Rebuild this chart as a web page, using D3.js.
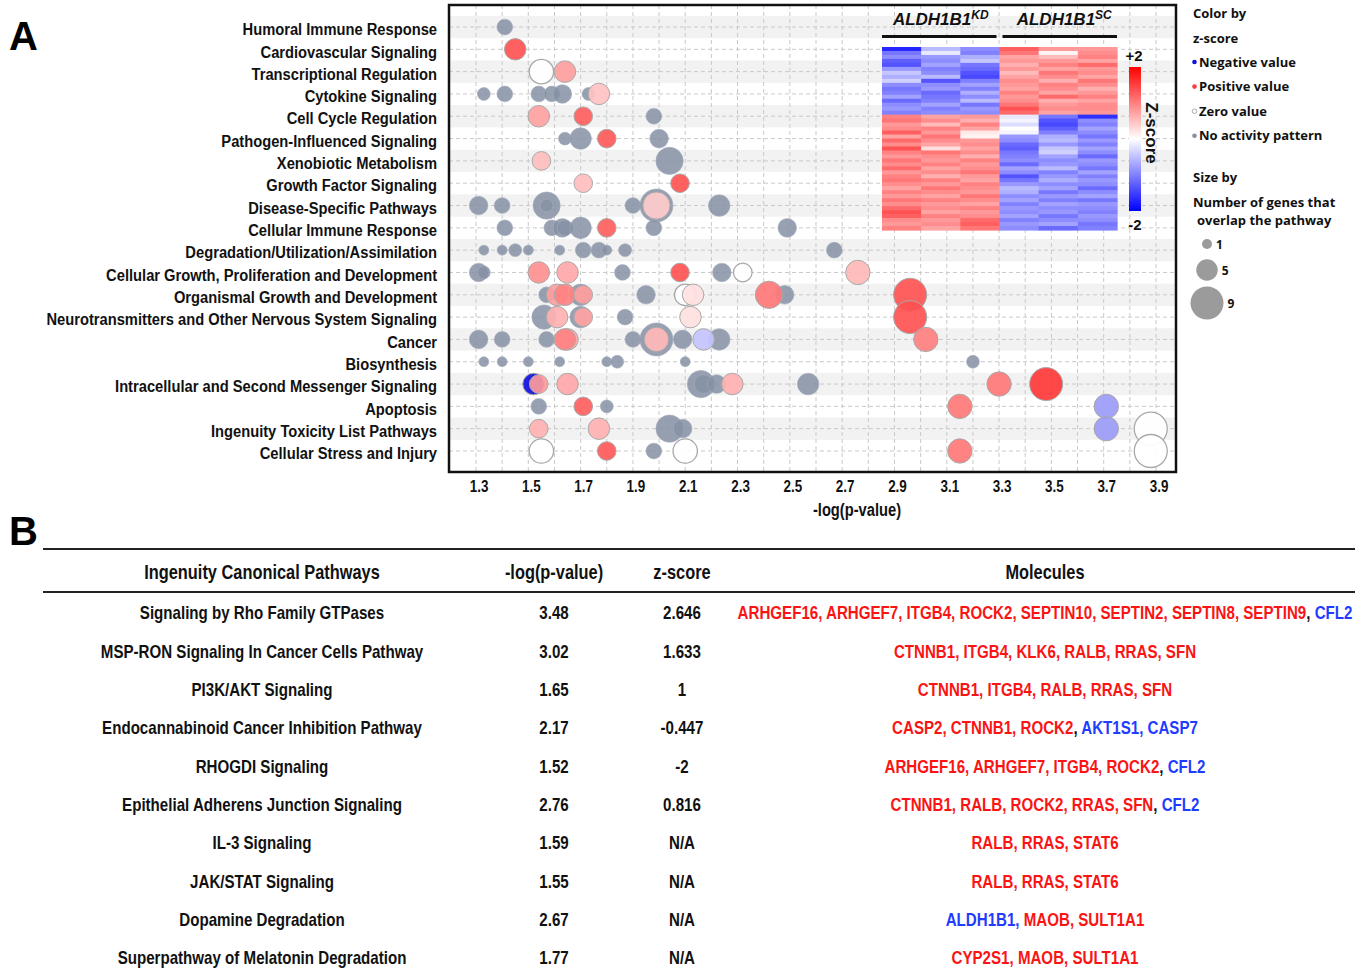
<!DOCTYPE html>
<html><head><meta charset="utf-8">
<script src="https://cdn.jsdelivr.net/npm/d3@7"></script>
<style>
body{margin:0;background:#fff;}
svg{display:block;}
</style></head><body>
<svg id="c" width="1363" height="973"></svg>
<script>
// ---------------- DATA ----------------
const categories = ["Humoral Immune Response","Cardiovascular Signaling","Transcriptional Regulation","Cytokine Signaling","Cell Cycle Regulation","Pathogen-Influenced Signaling","Xenobiotic Metabolism","Growth Factor Signaling","Disease-Specific Pathways","Cellular Immune Response","Degradation/Utilization/Assimilation","Cellular Growth, Proliferation and Development","Organismal Growth and Development","Neurotransmitters and Other Nervous System Signaling","Cancer","Biosynthesis","Intracellular and Second Messenger Signaling","Apoptosis","Ingenuity Toxicity List Pathways","Cellular Stress and Injury"];

const xTicks = [1.3,1.5,1.7,1.9,2.1,2.3,2.5,2.7,2.9,3.1,3.3,3.5,3.7,3.9];

// [category index, -log(p-value), number of overlapping genes, z-score (null = no activity pattern)]
const bubbles = [
 [0,1.41,3,null],
 [1,1.45,5,2.3],
 [2,1.55,6,0],[2,1.64,5,1.15],
 [3,1.33,2,null],[3,1.41,3,null],[3,1.54,3,null],[3,1.59,3,null],[3,1.63,4,null],[3,1.73,2,null],[3,1.77,5,0.7],
 [4,1.54,5,1.1],[4,1.71,4,2.1],[4,1.98,3,null],
 [5,1.64,2,null],[5,1.70,5,null],[5,1.80,4,2.2],[5,2.00,4,null],
 [6,1.55,4,0.75],[6,2.04,7,null],
 [7,1.71,4,0.75],[7,2.08,4,2.3],
 [8,1.31,4,null],[8,1.40,3,null],[8,1.57,7,null],[8,1.57,2,null],[8,1.90,3,null],[8,1.99,9,null],[8,1.99,7,0.6],[8,2.23,5,null],
 [9,1.41,3,null],[9,1.59,3,null],[9,1.63,4,null],[9,1.64,3,null],[9,1.70,5,null],[9,1.80,4,2.1],[9,1.98,3,null],[9,2.49,4,null],
 [10,1.33,1,null],[10,1.40,1,null],[10,1.45,2,null],[10,1.50,1,null],[10,1.62,1,null],[10,1.71,3,null],[10,1.77,3,null],[10,1.80,1,null],[10,1.87,2,null],[10,2.67,3,null],
 [11,1.31,4,null],[11,1.33,2,null],[11,1.54,5,1.4],[11,1.65,5,1.0],[11,1.86,3,null],[11,2.08,4,2.3],[11,2.24,4,null],[11,2.32,4,0],[11,2.76,6,0.816],
 [12,1.57,3,null],[12,1.70,5,null],[12,1.61,5,1.15],[12,1.64,5,1.6],[12,1.71,4,1.15],[12,1.95,4,null],[12,2.10,5,0],[12,2.13,5,0.35],[12,2.48,4,null],[12,2.42,7,1.75],[12,2.96,9,2.3],
 [13,1.56,6,null],[13,1.70,5,null],[13,1.61,5,0.9],[13,1.71,4,1.1],[13,1.87,3,null],[13,2.12,5,0.35],[13,2.96,9,2.3],
 [14,1.31,4,null],[14,1.40,3,null],[14,1.57,3,null],[14,1.65,5,1.0],[14,1.64,5,1.6],[14,1.90,3,null],[14,1.99,9,null],[14,1.99,6,0.8],[14,2.09,4,null],[14,2.23,5,null],[14,2.17,5,-0.447],[14,3.02,6,1.633],
 [15,1.33,1,null],[15,1.40,1,null],[15,1.50,1,null],[15,1.62,1,null],[15,1.80,1,null],[15,1.84,2,null],[15,2.10,1,null],[15,3.20,2,null],
 [16,1.52,5,-2],[16,1.54,4,1.2],[16,1.65,5,1.0],[16,2.16,7,null],[16,2.17,4,null],[16,2.22,4,null],[16,2.28,5,0.9],[16,2.57,5,null],[16,3.30,6,1.75],[16,3.48,9,2.646],
 [17,1.54,3,null],[17,1.71,4,2.1],[17,1.80,2,null],[17,3.15,6,1.75],[17,3.71,6,-0.8],
 [18,1.54,4,0.9],[18,1.77,5,0.9],[18,2.04,7,null],[18,2.09,4,null],[18,3.71,6,-0.8],[18,3.88,9,0],
 [19,1.55,6,0],[19,1.80,4,2.2],[19,1.98,3,null],[19,2.10,6,0],[19,3.15,6,1.75],[19,3.88,9,0]
];

const sizeLegend = [1,5,9];
const colorLegend = ["Negative value","Positive value","Zero value","No activity pattern"];

// heatmap inset: columns = 3 ALDH1B1 KD replicates, 3 ALDH1B1 SC replicates
const heatmapGroups = ["KD","SC"];
const heatmapValues = [
 [-1.9,-0.6,-1.0,1.4,0.9,0.9],
 [-1.2,-0.2,-1.1,1.2,0.1,1.0],
 [-1.0,-0.9,-0.7,0.8,0.6,1.1],
 [-1.4,-1.0,-0.5,0.9,0.9,0.8],
 [-1.5,-0.8,-1.2,0.7,1.1,1.3],
 [-0.9,-1.1,-1.3,0.9,0.8,0.9],
 [-0.5,-1.0,-1.5,0.6,1.2,1.0],
 [-0.7,-0.6,-1.6,0.8,1.0,0.8],
 [-0.4,-1.5,-1.1,1.0,0.7,1.2],
 [-1.0,-1.0,-0.8,0.9,1.1,1.0],
 [-1.2,-0.9,-1.1,0.8,1.0,0.7],
 [-1.1,-1.3,-0.7,1.1,0.8,0.9],
 [-0.8,-1.2,-1.0,0.9,1.3,1.1],
 [-1.3,-1.1,-0.6,1.0,0.7,0.8],
 [-1.0,-0.8,-1.2,1.2,0.9,1.0],
 [-0.9,-1.1,-0.9,1.5,1.0,1.0],
 [-1.1,-1.0,-1.0,1.3,0.8,0.9],
 [1.1,0.8,0.9,-0.2,-1.2,-1.8],
 [1.2,1.0,0.7,-0.1,-1.5,-1.0],
 [0.9,0.6,1.1,-0.3,-1.6,-1.1],
 [1.0,1.1,0.8,0.0,-1.4,-0.8],
 [1.4,0.9,0.2,-0.1,-1.1,-1.0],
 [0.8,1.2,0.1,-0.9,-0.7,-1.2],
 [1.3,1.0,0.9,-1.0,-0.6,-0.9],
 [1.0,0.8,1.0,-1.3,-0.9,-1.1],
 [1.5,0.3,0.8,-1.4,-0.5,-0.8],
 [1.1,1.2,1.0,-1.2,-0.4,-1.0],
 [0.9,1.0,0.7,-1.1,-0.8,-1.3],
 [1.2,0.9,1.1,-1.0,-1.0,-0.9],
 [1.0,1.1,0.9,-1.3,-0.9,-1.0],
 [1.3,0.8,1.0,-0.8,-0.6,-1.2],
 [0.9,1.0,1.2,-1.0,-1.1,-0.8],
 [1.1,0.7,0.9,-1.5,-0.9,-1.1],
 [1.2,1.1,0.8,-1.2,-0.7,-0.9],
 [1.0,0.9,1.1,-0.9,-1.0,-1.0],
 [0.8,1.2,1.0,-0.6,-0.8,-1.3],
 [1.1,1.0,0.9,-0.7,-1.2,-1.0],
 [0.9,0.8,1.2,-1.0,-0.9,-0.8],
 [1.2,1.1,1.0,-0.8,-1.1,-1.2],
 [1.0,0.9,0.8,-1.1,-0.8,-0.9],
 [1.3,1.0,1.1,-0.9,-1.0,-1.0],
 [1.5,0.8,0.9,-1.0,-0.9,-1.1],
 [1.4,1.1,1.0,-0.8,-1.2,-0.9],
 [1.0,0.9,1.3,-1.1,-1.0,-1.0],
 [0.9,1.0,1.4,-0.9,-0.8,-1.2],
 [1.1,0.8,1.2,-1.0,-1.3,-1.1]
];

// table B
const tableHeaders = ["Ingenuity Canonical Pathways","-log(p-value)","z-score","Molecules"];
const tablePathways = ["Signaling by Rho Family GTPases","MSP-RON Signaling In Cancer Cells Pathway","PI3K/AKT Signaling","Endocannabinoid Cancer Inhibition Pathway","RHOGDI Signaling","Epithelial Adherens Junction Signaling","IL-3 Signaling","JAK/STAT Signaling","Dopamine Degradation","Superpathway of Melatonin Degradation"];
const tableLogP = ["3.48","3.02","1.65","2.17","1.52","2.76","1.59","1.55","2.67","1.77"];
const tableZ = ["2.646","1.633","1","-0.447","-2","0.816","N/A","N/A","N/A","N/A"];
// segments: [text, "up" | "down" | "sep"]
const tableMolecules = [
 [["ARHGEF16, ARHGEF7, ITGB4, ROCK2, SEPTIN10, SEPTIN2, SEPTIN8, SEPTIN9","up"],[",","sep"],[" CFL2","down"]],
 [["CTNNB1, ITGB4, KLK6, RALB, RRAS, SFN","up"]],
 [["CTNNB1, ITGB4, RALB, RRAS, SFN","up"]],
 [["CASP2, CTNNB1, ROCK2","up"],[",","sep"],[" AKT1S1, CASP7","down"]],
 [["ARHGEF16, ARHGEF7, ITGB4, ROCK2","up"],[",","sep"],[" CFL2","down"]],
 [["CTNNB1, RALB, ROCK2, RRAS, SFN","up"],[",","sep"],[" CFL2","down"]],
 [["RALB, RRAS, STAT6","up"]],
 [["RALB, RRAS, STAT6","up"]],
 [["ALDH1B1,","down"],[" MAOB, SULT1A1","up"]],
 [["CYP2S1, MAOB, SULT1A1","up"]]
];

// ---------------- DRAWING ----------------
const svg = d3.select("#c");
const ARIAL = "'Liberation Sans', Arial, Helvetica, sans-serif";
const LEG = "'Open Sans', 'Noto Sans', sans-serif";
const plot = {left:449, right:1176, top:5, bottom:472};

const x = d3.scaleLinear().domain([1.3,3.9]).range([476,1156]);
const y = d3.scalePoint().domain(categories).range([27,451]);
const rowH = y.step();
const r = d3.scaleLinear().domain([1,9]).range([5,16.5]);
const zColor = d3.scaleLinear()
  .domain([-2,-0.45,0,1,1.63,2.65])
  .range(["#1010dc","#c4c4ff","#ffffff","#ffa8a8","#ff8080","#ff3a3a"]).clamp(true);
const GRAY = "#8690a4";

function ntext(parent, tx, ty, sx, size, anchor, str){
  return parent.append("text")
    .attr("transform", `translate(${tx},${ty}) scale(${sx},1)`)
    .attr("text-anchor", anchor)
    .attr("font-family", ARIAL).attr("font-weight","bold")
    .attr("font-size", size).attr("fill","#111")
    .text(str);
}

// panel letters
svg.append("text").attr("x",9).attr("y",50).attr("font-family",ARIAL).attr("font-weight","bold").attr("font-size",40).text("A");
svg.append("text").attr("x",9).attr("y",545).attr("font-family",ARIAL).attr("font-weight","bold").attr("font-size",40).text("B");

// background bands
const gBg = svg.append("g");
gBg.selectAll("rect.band").data(categories.filter((d,i)=>i%2===0)).join("rect")
  .attr("x",plot.left).attr("width",plot.right-plot.left)
  .attr("y",d=>y(d)-rowH/2).attr("height",rowH).attr("fill","#f2f2f2");

// grid lines
const gridX = d3.range(13,40).map(d=>d/10);
gBg.selectAll("line.vx").data(gridX).join("line")
  .attr("x1",d=>x(d)).attr("x2",d=>x(d)).attr("y1",plot.top).attr("y2",plot.bottom)
  .attr("stroke","#c9c9c9").attr("stroke-width",1).attr("stroke-dasharray","4,3");
gBg.selectAll("line.hy").data(categories).join("line")
  .attr("x1",plot.left).attr("x2",plot.right).attr("y1",d=>y(d)).attr("y2",d=>y(d))
  .attr("stroke","#c9c9c9").attr("stroke-width",1).attr("stroke-dasharray","4,3");

// clip
svg.append("clipPath").attr("id","pc").append("rect")
  .attr("x",plot.left).attr("y",plot.top).attr("width",plot.right-plot.left).attr("height",plot.bottom-plot.top);

// bubbles
svg.append("g").attr("clip-path","url(#pc)")
  .selectAll("circle").data(bubbles).join("circle")
  .attr("cx",d=>x(d[1])).attr("cy",d=>y(categories[d[0]])).attr("r",d=>r(d[2]))
  .attr("fill",d=>d[3]===null?GRAY:zColor(d[3]))
  .attr("fill-opacity",d=>d[3]===null?0.85:0.92)
  .attr("stroke",d=>d[3]===null?"#a4acbb":"#a9a9a9")
  .attr("stroke-opacity",d=>d[3]===null?0.6:1)
  .attr("stroke-width",d=>d[3]===0?1.3:1);

// heatmap inset
const hx = d3.scaleBand().domain(d3.range(6)).range([882,1117]);
const hy = d3.scaleBand().domain(d3.range(heatmapValues.length)).range([47,230]);
const hColor = d3.scaleLinear().domain([-2,0,2]).range(["#1a1aff","#ffffff","#ff1a1a"]).clamp(true);
const gH = svg.append("g");
heatmapValues.forEach((row,i)=>{
  gH.selectAll(null).data(row).join("rect")
    .attr("x",(d,j)=>hx(j)).attr("y",hy(i)).attr("width",hx.bandwidth()+0.6).attr("height",hy.bandwidth()+0.6)
    .attr("fill",d=>hColor(d));
});
// group titles and bars
heatmapGroups.forEach((g,k)=>{
  const x0 = hx(k*3), x1 = hx(k*3+2)+hx.bandwidth();
  const t = gH.append("text").attr("x",(x0+x1)/2+(k?6:0)).attr("y",25).attr("text-anchor","middle")
    .attr("font-family",ARIAL).attr("font-weight","bold").attr("font-style","italic").attr("font-size",17).attr("fill","#111");
  t.append("tspan").text("ALDH1B1");
  t.append("tspan").attr("dy",-6).attr("font-size",12).text(g);
  gH.append("line").attr("x1",x0+(k?3:0)).attr("x2",x1-(k?0:3)).attr("y1",36.5).attr("y2",36.5)
    .attr("stroke","#111").attr("stroke-width",3);
});
// z-score color bar
const grad = svg.append("defs").append("linearGradient").attr("id","zg").attr("x1",0).attr("x2",0).attr("y1",0).attr("y2",1);
[[0,"#ff0000"],[0.5,"#ffffff"],[1,"#0000ff"]].forEach(s=>grad.append("stop").attr("offset",s[0]).attr("stop-color",s[1]));
const zBar = d3.scaleLinear().domain([2,-2]).range([67,211]);
gH.append("rect").attr("x",1129).attr("y",zBar(2)).attr("width",12).attr("height",zBar(-2)-zBar(2)).attr("fill","url(#zg)");
gH.append("text").attr("x",1134).attr("y",zBar(2)-6).attr("text-anchor","middle").attr("font-family",ARIAL).attr("font-weight","bold").attr("font-size",15).attr("fill","#111").text("+2");
gH.append("text").attr("x",1135).attr("y",zBar(-2)+19).attr("text-anchor","middle").attr("font-family",ARIAL).attr("font-weight","bold").attr("font-size",15).attr("fill","#111").text("-2");
gH.append("text").attr("transform",`translate(1146,${zBar(0)-6}) rotate(90)`).attr("text-anchor","middle")
  .attr("font-family",ARIAL).attr("font-weight","bold").attr("font-size",17).attr("fill","#111").text("Z-score");

// frame
svg.append("rect").attr("x",plot.left).attr("y",plot.top).attr("width",plot.right-plot.left).attr("height",plot.bottom-plot.top)
  .attr("fill","none").attr("stroke","#111").attr("stroke-width",2.5);

// y axis labels
const yAxis = svg.append("g").attr("transform",`translate(${plot.left},0)`)
  .call(d3.axisLeft(y).tickSize(0).tickPadding(13));
yAxis.select(".domain").remove();
yAxis.selectAll("text").attr("font-family",ARIAL).attr("font-weight","bold").attr("font-size",16)
  .attr("fill","#111").attr("dy","0.48em").attr("transform","scale(0.92,1)");

// x axis
const xAxis = svg.append("g").attr("transform",`translate(0,${plot.bottom})`)
  .call(d3.axisBottom(x).tickValues(xTicks).tickFormat(d3.format(".1f")).tickSize(0).tickPadding(9));
xAxis.select(".domain").remove();
xAxis.selectAll("text").attr("font-family",ARIAL).attr("font-weight","bold").attr("font-size",16)
  .attr("fill","#111").attr("dx",3).attr("transform","scale(0.84,1)");
ntext(svg, 857, 516, 0.84, 17.5, "middle", "-log(p-value)");

// right legend
const gL = svg.append("g").attr("font-family",LEG).attr("font-weight",700).attr("font-size",13).attr("fill","#111");
gL.append("text").attr("x",1193).attr("y",18).text("Color by");
gL.append("text").attr("x",1193).attr("y",43).text("z-score");
const legFill = [zColor(-2), zColor(2.65), "#ffffff", GRAY];
colorLegend.forEach((t,i)=>{
  const cy = 62 + i*24.6;
  gL.append("circle").attr("cx",1194.5).attr("cy",cy).attr("r",2.3).attr("fill",legFill[i])
    .attr("stroke",i===2?"#999":"none").attr("stroke-width",0.8);
  gL.append("text").attr("x",1199).attr("y",cy+4.6).text(t);
});
gL.append("text").attr("x",1193).attr("y",182).text("Size by");
gL.append("text").attr("x",1193).attr("y",207).text("Number of genes that");
gL.append("text").attr("x",1197).attr("y",225).text(" overlap the pathway");
const sizeY = d3.scaleOrdinal().domain(sizeLegend).range([244,270,303]);
sizeLegend.forEach(n=>{
  gL.append("circle").attr("cx",1207).attr("cy",sizeY(n)).attr("r",r(n)).attr("fill","#9b9b9b");
  gL.append("text").attr("x",1207+r(n)+4).attr("y",sizeY(n)+4.5).attr("font-size",12).text(n);
});

// ---------------- TABLE B ----------------
const gT = svg.append("g");
const colX = d3.scaleOrdinal().domain(tableHeaders).range([262,554,682,1045]);
gT.append("line").attr("x1",43).attr("x2",1355).attr("y1",549).attr("y2",549).attr("stroke","#222").attr("stroke-width",2);
gT.append("line").attr("x1",43).attr("x2",1355).attr("y1",592).attr("y2",592).attr("stroke","#222").attr("stroke-width",2);
tableHeaders.forEach(h=>ntext(gT, colX(h), 579, 0.84, 19.5, "middle", h));
const rowY = d3.scalePoint().domain(d3.range(tablePathways.length)).range([613,958]);
const molColor = {up:"#fa1414", down:"#1f3cff", sep:"#111"};
tablePathways.forEach((p,i)=>{
  const by = rowY(i)+6.4;
  ntext(gT, colX(tableHeaders[0]), by, 0.84, 18, "middle", p);
  ntext(gT, colX(tableHeaders[1]), by, 0.84, 18, "middle", tableLogP[i]);
  ntext(gT, colX(tableHeaders[2]), by, 0.84, 18, "middle", tableZ[i]);
  const t = ntext(gT, colX(tableHeaders[3]), by, 0.84, 18, "middle", null);
  t.selectAll("tspan").data(tableMolecules[i]).join("tspan")
    .attr("fill",d=>molColor[d[1]]).style("white-space","pre").text(d=>d[0]);
});
</script>
</body></html>
